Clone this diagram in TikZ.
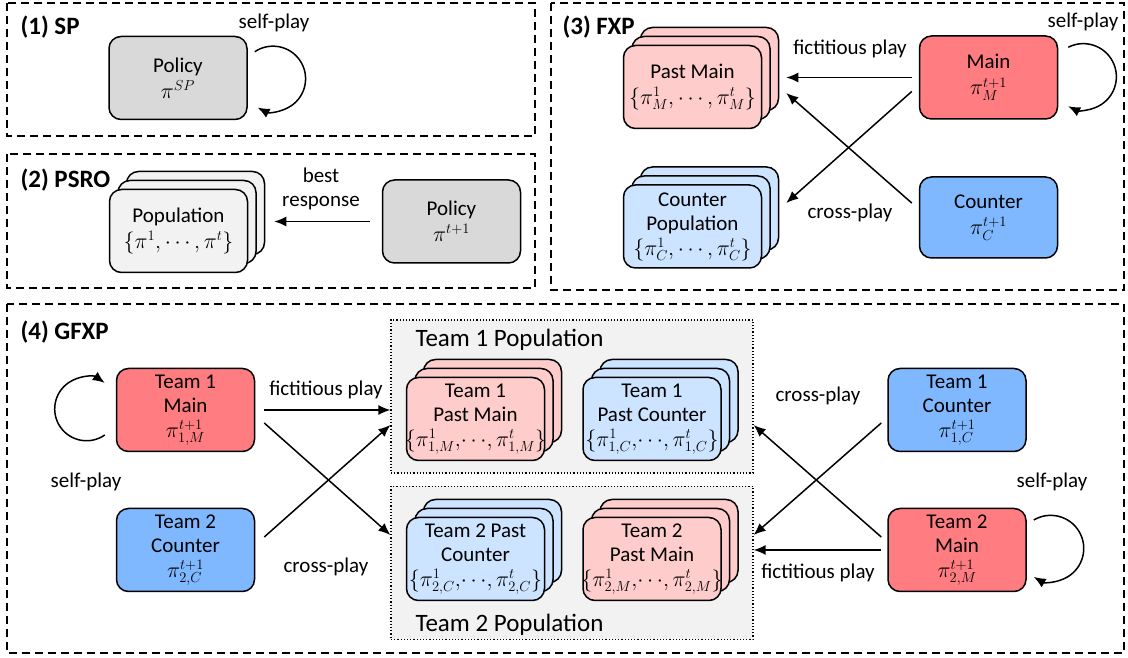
\RequirePackage{fix-cm}
\documentclass[tikz,border=0pt]{standalone}
\usepackage{fontspec}
\setmainfont{Carlito}
\DeclareMathSizes{21}{22}{14.5}{10.5}
\usetikzlibrary{arrows,arrows.meta,positioning,shadows}
\tikzset{
	>={Latex[length=12pt,width=10pt]},
}
\newcommand{\polset}[1]{\makebox[0pt]{$\{#1\}$}}
\definecolor{mainred}{HTML}{FF7C80}
\definecolor{pastred}{HTML}{FFCCCC}
\definecolor{ctrblue}{HTML}{7FB8FF}
\definecolor{pastblue}{HTML}{CCE4FF}
\definecolor{polgray}{HTML}{D9D9D9}
\definecolor{popgray}{HTML}{F2F2F2}

\begin{document}
\begin{tikzpicture}[x=1pt, y=1pt,
	block/.style = {draw, line width=1.5pt, rounded corners=12pt, align=center, minimum width=138pt, minimum height=83pt, inner sep=0, font=\fontsize{21}{26}\selectfont},
	stackblock/.style = {block, double copy shadow={shadow xshift=8.5pt, shadow yshift=9pt}},
	tight/.style = {font=\fontsize{21}{24.5}\selectfont},
	panel/.style = {draw, line width=1.8pt, dash pattern=on 8pt off 5pt},
	popbox/.style = {draw, dotted, line width=1.2pt, fill=popgray, minimum width=362pt, minimum height=153pt, inner sep=0},
	heading/.style = {anchor=west, font=\fontsize{25}{30}\selectfont\bfseries},
	lbl/.style = {align=center, font=\fontsize{21}{24}\selectfont},
	arr/.style = {->, line width=1.5pt}]
\useasboundingbox (0,0) rectangle (1128,658);
\draw[panel] (7,655) rectangle (535,522);
\draw[panel] (7,504) rectangle (535,370);
\draw[panel] (551,655) rectangle (1124,368);
\draw[panel] (7,354) rectangle (1124,5);

% (1) SP
\node[heading] (sptitle) at (17,631) {(1) SP};
\node[block, fill=polgray] (sppolicy) at (178,580) {Policy\\$\pi^{SP}$};
\draw[arr] ([shift={(7pt,-16pt)}]sppolicy.north east) arc[start angle=124, end angle=-118, radius=32.6];
\node[lbl] (spself) at (274,635) {self-play};

% (2) PSRO
\node[heading] (psrotitle) at (17,478) {(2) PSRO};
\node[stackblock, fill=popgray] (population) at (178.5,427) {Population\\\polset{\pi^1,\cdots,\pi^t}};
\node[block, fill=polgray] (psropolicy) at (451.5,436.5) {Policy\\$\pi^{t+1}$};
\draw[arr] ([xshift=-12pt]psropolicy.west) -- ([xshift=26pt]population.east |- psropolicy.west);
\node[lbl] (bestresp) at (321,469) {best\\response};

% (3) FXP
\node[heading] (fxptitle) at (559,631) {(3) FXP};
\node[stackblock, fill=pastred] (pastmain) at (692.5,571) {Past Main\\\polset{\pi_M^1,\cdots,\pi_M^t}};
\node[stackblock, tight, fill=pastblue, below of=pastmain, node distance=139.5pt] (ctrpop) {Counter\\Population\\\polset{\pi_C^1,\cdots,\pi_C^t}};
\node[block, fill=mainred] (fxpmain) at (988.5,580.5) {Main\\$\pi_M^{t+1}$};
\node[block, fill=ctrblue, below of=fxpmain, node distance=140pt, minimum height=81pt] (fxpctr) {Counter\\$\pi_C^{t+1}$};
\draw[arr] ([xshift=-7pt]fxpmain.west) -- ([xshift=24pt]pastmain.east |- fxpmain.west);
\draw[arr] ([shift={(-7pt,-14pt)}]fxpmain.west) -- ([shift={(24pt,23.5pt)}]ctrpop.east);
\draw[arr] ([shift={(-7pt,14.5pt)}]fxpctr.west) -- ([shift={(24pt,-6pt)}]pastmain.east);
\draw[arr] ([shift={(10pt,-12pt)}]fxpmain.north east) arc[start angle=117, end angle=-117, radius=33.1];
\node[lbl] (fxpfict) at (850,609) {fictitious play};
\node[lbl] (fxpcross) at (850,445) {cross-play};
\node[lbl] (fxpself) at (1083,636) {self-play};

% (4) GFXP
\node[heading] (gfxptitle) at (17,326) {(4) GFXP};
\node[popbox] (pop1) at (572,261.5) {};
\node[popbox] (pop2) at (572,95) {};
\node[anchor=base west, font=\fontsize{25}{30}\selectfont] (pop1lbl) at (412,311) {Team 1 Population};
\node[anchor=base west, font=\fontsize{25}{30}\selectfont] (pop2lbl) at (412,26) {Team 2 Population};
\node[stackblock, tight, fill=pastred] (pastmain1) at (475.5,239) {Team 1\\Past Main\\\polset{\pi_{1,M}^1,\!\cdots\!,\pi_{1,M}^t}};
\node[stackblock, tight, fill=pastblue, right of=pastmain1, node distance=176.5pt] (pastctr1) {Team 1\\Past Counter\\\polset{\pi_{1,C}^1,\!\cdots\!,\pi_{1,C}^t}};
\node[stackblock, tight, fill=pastblue, below of=pastmain1, node distance=140pt] (pastctr2) {Team 2 Past\\Counter\\\polset{\pi_{2,C}^1,\!\cdots\!,\pi_{2,C}^t}};
\node[stackblock, tight, fill=pastred, below of=pastctr1, node distance=140pt] (pastmain2) {Team 2\\Past Main\\\polset{\pi_{2,M}^1,\!\cdots\!,\pi_{2,M}^t}};
\node[block, tight, fill=mainred] (main1) at (185.5,248) {Team 1\\Main\\$\pi_{1,M}^{t+1}$};
\node[block, tight, fill=ctrblue, below of=main1, node distance=140pt] (ctr2) {Team 2\\Counter\\$\pi_{2,C}^{t+1}$};
\node[block, tight, fill=ctrblue] (ctr1) at (957,248) {Team 1\\Counter\\$\pi_{1,C}^{t+1}$};
\node[block, tight, fill=mainred, below of=ctr1, node distance=140pt] (main2) {Team 2\\Main\\$\pi_{2,M}^{t+1}$};
\draw[arr] ([xshift=9pt]main1.east) -- (pop1.west |- main1.east);
\draw[arr] ([shift={(9pt,-13pt)}]main1.east) -- ([yshift=28pt]pop2.west);
\draw[arr] ([shift={(9pt,13pt)}]ctr2.east) -- ([yshift=-28.5pt]pop1.west);
\draw[arr] ([xshift=-6pt]main2.west) -- (pop2.east |- main2.west);
\draw[arr] ([shift={(-6pt,-13pt)}]ctr1.west) -- ([yshift=28pt]pop2.east);
\draw[arr] ([shift={(-6pt,13pt)}]main2.west) -- ([yshift=-28.5pt]pop1.east);
\draw[arr] ([shift={(-11pt,-25pt)}]main1.west) arc[start angle=-55, end angle=-305, radius=31.8];
\draw[arr] ([shift={(7pt,30pt)}]main2.east) arc[start angle=120.7, end angle=-120.7, radius=33.1];
\node[lbl] (gfict1) at (326,268) {fictitious play};
\node[lbl] (gcross1) at (326,91) {cross-play};
\node[lbl] (gcross2) at (818,262) {cross-play};
\node[lbl] (gfict2) at (818,85) {fictitious play};
\node[lbl] (gself1) at (86,176) {self-play};
\node[lbl] (gself2) at (1052,176) {self-play};
\end{tikzpicture}
\end{document}
